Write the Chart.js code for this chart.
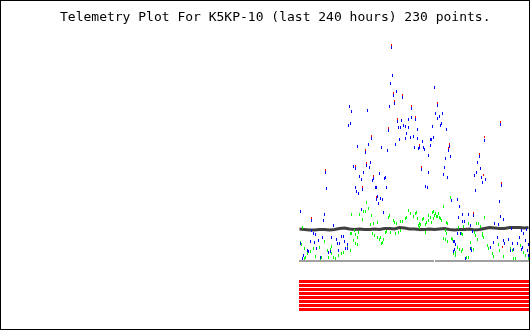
<!DOCTYPE html>
<html>
<head>
<meta charset="utf-8">
<script src="https://cdn.jsdelivr.net/npm/chart.js@4/dist/chart.umd.min.js"></script>
<style>
  body { margin: 0; background: #fff; }
  #wrap { position: relative; width: 530px; height: 330px; }
  #frame { position: absolute; left: 0; top: 0; width: 530px; height: 330px; box-sizing: border-box; border: 1px solid #000; pointer-events: none; }
</style>
</head>
<body>
<div id="wrap">
  <canvas id="telemetryChart" width="530" height="330"></canvas>
  <div id="frame"></div>
</div>
<script>
var titleText = 'Telemetry Plot For K5KP-10 (last 240 hours) 230 points.';

// [sample, value] pairs (sample 0..229)
var bluePoints = [
  [1,49],[50,154],[52,149],[51,137],[49,135],[58,114],[54,94],[56,92],[26,88],[27,72],[56,73],[57,69],
  [12,40],[25,46],[24,40],[34,35],[12,30],[14,27],[16,26],[42,24],[44,24],[1,17],[11,19],[15,18],[19,20],
  [23,23],[32,23],[37,21],[38,17],[40,17],[45,19],[48,16],[8,10],[9,9],[17,12],[29,8],[31,9],[46,12],
  [48,12],[4,5],[3,2],[21,3],[39,10],
  [92,213],[93,185],[91,177],[97,169],[94,165],[103,163],[95,157],[90,154],[112,152],[68,150],[112,143],
  [109,141],[116,141],[98,139],[102,140],[104,135],[106,134],[99,133],[101,133],[109,133],[118,131],[89,130],
  [107,127],[114,124],[72,122],[111,123],[106,122],[100,121],[118,122],[96,116],[69,116],[82,113],[115,113],
  [88,110],[66,108],[71,98],[67,95],[70,93],[64,88],[60,84],[62,81],[80,87],[86,83],[85,82],[74,82],[73,80],
  [76,73],[77,73],[87,73],[63,71],[59,67],[78,64],[83,61],[81,62],[77,61],[79,57],[62,51],[84,48],
  [135,173],[138,155],[136,147],[143,147],[140,144],[138,142],[142,137],[141,135],[133,134],[147,131],
  [134,123],[131,121],[132,121],[123,119],[131,115],[150,114],[120,113],[119,112],[124,113],[125,111],
  [149,110],[129,105],[151,104],[146,102],[178,98],[122,91],[145,93],[129,88],[177,88],[175,85],[144,86],
  [148,83],[126,74],[128,73],[176,70],[158,61],[152,60],[160,54],[163,46],[169,46],[174,45],[159,43],
  [163,39],[165,39],[171,35],[173,29],[158,27],[161,27],[154,19],[155,19],[156,16],[155,11],[154,9],
  [171,12],[172,10],[166,2],
  [185,120],[201,136],[180,104],[181,92],[182,83],[183,78],[186,81],[202,75],[200,59],[201,44],[195,37],
  [199,36],[204,41],[212,32],[222,30],[224,27],[227,31],[209,21],[205,17],[213,17],[218,17],[226,20],
  [222,11],[211,10],[191,13],[194,18],[198,23],[204,20],[214,11],[220,23],[223,13],[228,10],[229,5],[229,16]
];

var redPoints = [
  [26,90],[12,42],[56,94],[92,215],[94,167],[103,165],[95,159],[112,154],[116,143],[98,141],[89,132],
  [72,124],[66,110],[67,97],[74,84],[63,73],[77,63],[138,157],[150,116],[120,115],[149,112],[122,93],
  [174,47],[185,123],[201,138],[180,106],[184,85],[202,77],[203,13]
];

var greenPoints = [
  [52,46],[51,27],[55,30],[56,26],[58,23],[1,18],[2,16],[5,12],[11,9],[14,12],[8,7],[6,3],[5,2],[20,13],
  [25,19],[32,14],[16,4],[21,2],[22,3],[32,7],[34,3],[36,2],[39,5],[42,7],[44,8],[48,13],[51,10],[28,10],
  [31,11],[29,3],[52,27],[54,20],[56,17],[58,16],[3,33],
  [67,58],[64,49],[66,49],[69,52],[72,45],[63,41],[60,46],[89,43],[90,45],[94,40],[95,38],[97,37],[101,39],
  [103,39],[106,42],[107,43],[109,50],[111,47],[114,44],[116,47],[117,48],[118,42],[71,36],[74,37],[78,38],
  [59,28],[73,27],[75,25],[78,23],[80,21],[81,23],[82,17],[83,18],[84,21],[86,28],[87,29],[91,28],[96,27],
  [99,28],[101,30],
  [120,37],[123,41],[126,36],[129,45],[131,43],[133,48],[134,42],[137,44],[139,47],[141,42],[144,54],[151,63],
  [134,49],[136,47],[135,45],[138,44],[140,43],[124,42],[129,40],[132,38],[127,38],[142,40],[147,38],[148,37],
  [121,36],[119,35],[120,33],[169,37],[177,37],[159,33],[164,34],[126,28],[146,30],[147,27],[144,22],[146,21],
  [148,19],[152,22],[153,21],[162,27],[163,26],[175,28],[176,25],[178,21],[171,18],[158,13],[160,11],[156,8],
  [154,7],[156,5],[162,9],[163,11],[167,3],[169,3],[172,12],[174,11],
  [179,37],[181,34],[183,25],[184,23],[188,15],[189,12],[193,7],[194,4],[199,16],[200,10],[204,4],[211,12],
  [213,10],[214,2],[216,2],[221,15],[223,13],[224,8],[226,5],[228,10],[229,2],[185,43],[183,27]
];

// dark trace, sampled every 5 points
var traceSamples = [0,5,10,15,20,25,30,35,40,45,50,55,60,65,70,75,80,85,90,95,100,105,110,115,120,
  125,130,135,140,145,150,155,160,165,170,175,180,185,190,195,200,205,210,215,220,225,229];
var traceValues = [31.5,31,30.5,30.5,31,31,30.5,31,32,32.5,31.5,31,31.5,31,31,31.5,31,32,32,31.5,33,32.5,
  31.5,31.5,31,31,31.5,31,31.5,32,31,30.5,31,31,31.5,30.5,31,32,33,32.5,32,32,33,33,33,32.5,33];

// grey base line segments and the 8 status bit rows
var baseSegments = [[-0.5,134.5],[135.5,229.5]];
var baseValue = -0.5;
var bitRows = [-21,-25,-29,-33,-37,-41,-45,-49];
var bitRange = [-0.5,229.5];

function marker(w, h, fill, rows) {
    var c = document.createElement('canvas');
    c.width = w; c.height = h;
    var g = c.getContext('2d');
    g.fillStyle = fill;
    g.fillRect(0, 0, w, rows);
    return c;
}

function toXY(list) {
    return list.map(function (p) { return { x: p[0], y: p[1] }; });
}

(function () {
    var datasets = [];
    datasets.push({ label: 'red', data: toXY(redPoints), pointStyle: marker(1, 3, '#ff0000', 2) });
    datasets.push({ label: 'blue', data: toXY(bluePoints), pointStyle: marker(1, 3, '#0000ff', 3) });
    datasets.push({ label: 'green', data: toXY(greenPoints), pointStyle: marker(1, 3, '#00ff00', 3) });
    datasets.push({
        type: 'line', label: 'trace',
        data: traceSamples.map(function (s, i) { return { x: s, y: traceValues[i] }; }),
        borderColor: '#404040', borderWidth: 3, pointRadius: 0, tension: 0
    });
    var baseData = [];
    baseSegments.forEach(function (seg, i) {
        if (i > 0) baseData.push({ x: seg[0], y: null });
        baseData.push({ x: seg[0], y: baseValue }, { x: seg[1], y: baseValue });
    });
    datasets.push({ type: 'line', label: 'base', data: baseData, borderColor: '#a0a0a0', borderWidth: 2, pointRadius: 0, spanGaps: false });
    bitRows.forEach(function (lvl, i) {
        datasets.push({
            type: 'line', label: 'bit' + i,
            data: [{ x: bitRange[0], y: lvl }, { x: bitRange[1], y: lvl }],
            borderColor: '#ff0000', borderWidth: 3, pointRadius: 0, borderCapStyle: 'butt'
        });
    });

    var titlePlugin = {
        id: 'plotTitle',
        afterDraw: function (chart) {
            var ctx = chart.ctx;
            ctx.save();
            ctx.font = '13px "DejaVu Sans Mono"';
            ctx.fillStyle = '#000';
            ctx.textAlign = 'left';
            ctx.textBaseline = 'middle';
            ctx.fillText(titleText, 60, 18);
            ctx.restore();
        }
    };

    new Chart(document.getElementById('telemetryChart').getContext('2d'), {
        type: 'scatter',
        data: { datasets: datasets },
        options: {
            responsive: false,
            animation: false,
            events: [],
            elements: { point: { radius: 1, hoverRadius: 0, borderWidth: 0 } },
            layout: { autoPadding: false, padding: { left: 299, right: 1, top: 40, bottom: 10 } },
            plugins: { legend: { display: false }, tooltip: { enabled: false } },
            scales: {
                x: { type: 'linear', display: false, min: -0.5, max: 229.5 },
                y: { type: 'linear', display: false, min: -59.5, max: 220.5 }
            }
        },
        plugins: [titlePlugin]
    });
})();
</script>
</body>
</html>
